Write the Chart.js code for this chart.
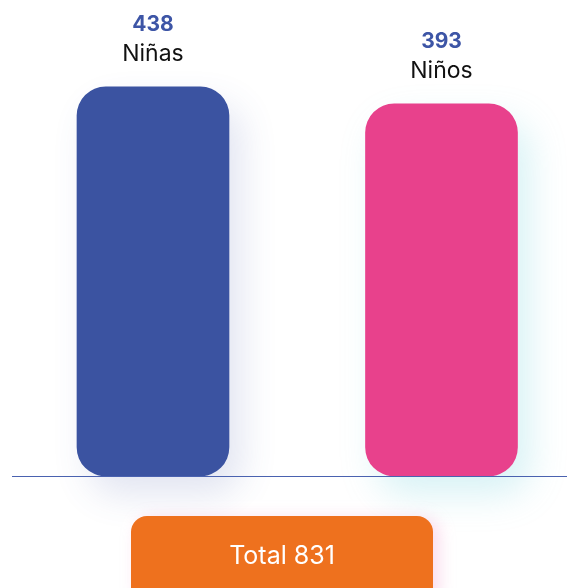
<!DOCTYPE html>
<html>
<head>
<meta charset="utf-8">
<script src="https://cdn.jsdelivr.net/npm/chart.js@4"></script>
<style>
  html, body { margin: 0; padding: 0; background: #ffffff; }
  #wrap { width: 567px; height: 588px; position: relative; }
</style>
</head>
<body>
<div id="wrap"><canvas id="c" width="567" height="588"></canvas></div>
<script>
const categories = ['Niñas', 'Niños'];
const values = [438, 393];
const totalLabel = 'Total';

const BAR_COLORS = ['#3B53A1', '#E8418C'];
const SHADOW_COLORS = ['rgba(70,90,170,0.16)', 'rgba(100,205,215,0.26)'];
const VALUE_COLOR = '#3D55A6';
const FONT = 'Inter, "Open Sans", sans-serif';
const RADIUS = 29;

const decor = {
  id: 'decor',
  beforeDatasetsDraw(chart) {
    const ctx = chart.ctx;
    const meta = chart.getDatasetMeta(0);
    meta.data.forEach((bar, i) => {
      const p = bar.getProps(['x', 'y', 'base', 'width'], true);
      ctx.save();
      ctx.shadowColor = SHADOW_COLORS[i];
      ctx.shadowBlur = 36;
      ctx.shadowOffsetX = 12;
      ctx.shadowOffsetY = 18;
      ctx.fillStyle = 'rgba(255,255,255,1)';
      ctx.beginPath();
      ctx.roundRect(p.x - p.width / 2, p.y, p.width, p.base - p.y, RADIUS);
      ctx.fill();
      ctx.restore();
    });
  },
  afterDatasetsDraw(chart) {
    const ctx = chart.ctx;
    const yBase = chart.scales.y.getPixelForValue(chart.scales.y.min);
    // baseline
    ctx.save();
    ctx.strokeStyle = '#4A62B0';
    ctx.lineWidth = 1.2;
    ctx.beginPath();
    ctx.moveTo(12, Math.round(yBase) + 0.5);
    ctx.lineTo(chart.width, Math.round(yBase) + 0.5);
    ctx.stroke();
    ctx.restore();

    // labels above bars
    const meta = chart.getDatasetMeta(0);
    meta.data.forEach((bar, i) => {
      const p = bar.getProps(['x', 'y'], true);
      ctx.save();
      ctx.textAlign = 'center';
      ctx.textBaseline = 'alphabetic';
      ctx.fillStyle = VALUE_COLOR;
      ctx.font = 'bold 21px ' + FONT;
      ctx.fillText(String(values[i]), p.x, p.y - 56);
      ctx.fillStyle = '#111111';
      ctx.font = '23px ' + FONT;
      ctx.fillText(categories[i], p.x, p.y - 26);
      ctx.restore();
    });

    // total box
    const total = values.reduce((a, b) => a + b, 0);
    ctx.save();
    ctx.shadowColor = 'rgba(240,150,200,0.35)';
    ctx.shadowBlur = 16;
    ctx.shadowOffsetX = 6;
    ctx.shadowOffsetY = 2;
    ctx.fillStyle = '#EE711E';
    ctx.beginPath();
    ctx.roundRect(131, 516, 302, 90, 16);
    ctx.fill();
    ctx.restore();
    ctx.save();
    ctx.fillStyle = '#ffffff';
    ctx.textAlign = 'center';
    ctx.textBaseline = 'alphabetic';
    ctx.font = '25px ' + FONT;
    ctx.fillText(totalLabel + ' ' + total, 282, 564);
    ctx.restore();
  }
};

new Chart(document.getElementById('c'), {
  type: 'bar',
  data: {
    datasets: [{
      data: values.map((v, i) => ({ x: i, y: v })),
      backgroundColor: BAR_COLORS,
      borderRadius: RADIUS,
      borderSkipped: false,
      barThickness: 152,
      base: -592
    }]
  },
  options: {
    responsive: false,
    animation: false,
    devicePixelRatio: 1,
    layout: { padding: { left: 12, right: 0, top: 0, bottom: 112 } },
    plugins: { legend: { display: false }, tooltip: { enabled: false } },
    scales: {
      x: { type: 'linear', display: false, offset: false, min: -0.4887, max: 1.435 },
      y: { display: false, min: -592, max: 668 }
    }
  },
  plugins: [decor]
});
</script>
</body>
</html>
